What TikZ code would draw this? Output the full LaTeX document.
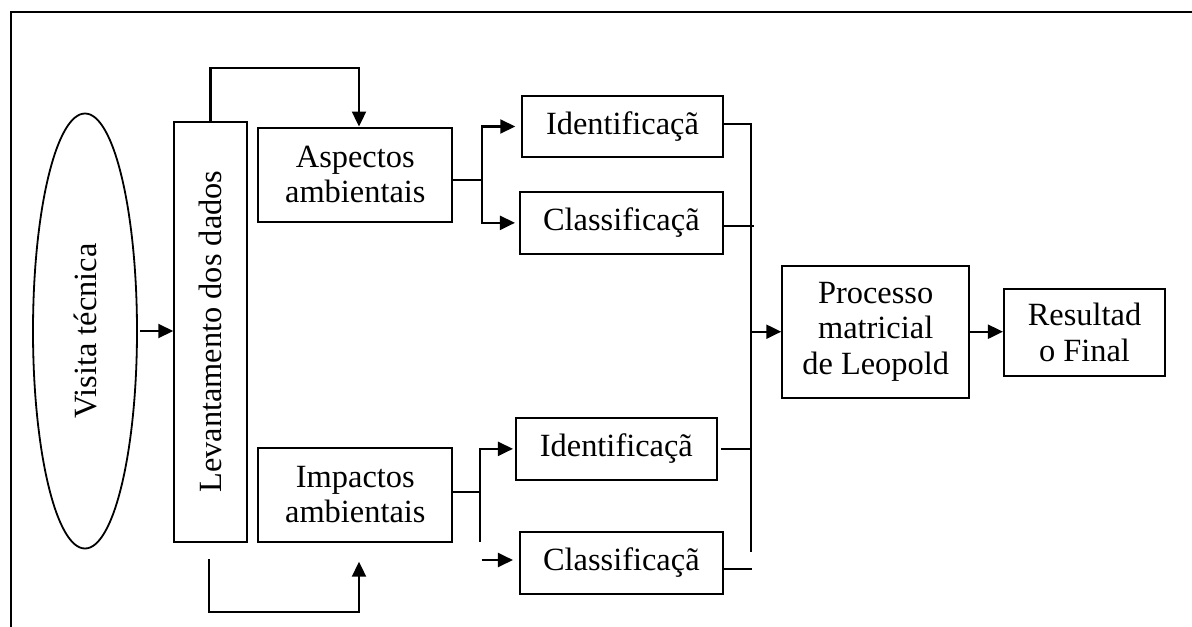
\documentclass[tikz,border=0pt]{standalone}
\usepackage{fontspec}
\setmainfont{Liberation Serif}
\usetikzlibrary{arrows.meta,shapes.geometric}
\tikzset{
  box/.style={draw, line width=1.05pt, rectangle, inner sep=0pt, align=center},
  arr/.style={line width=1.05pt, -{Triangle[length=7.5pt,width=7pt]}},
  ln/.style={line width=1.05pt},
}
\begin{document}
\begin{tikzpicture}[x=0.5pt,y=-0.5pt,font=\fontsize{16.2}{17.8}\selectfont]
\useasboundingbox (0,0) rectangle (1192,626);
% outer frame (cut at right and bottom)
\draw[line width=1.1pt] (11,640) -- (11,12) -- (1200,12);

% nodes
\node[draw, line width=0.9pt, ellipse, inner sep=0pt, minimum width=52pt, minimum height=217.5pt] (vis) at (85,331) {\rotatebox{90}{Visita técnica}};
\node[box, minimum width=36.2pt, minimum height=210pt] (lev) at (210.5,331.7) {\rotatebox{90}{Levantamento dos dados}};
\node[box, minimum width=97pt, minimum height=47pt] (asp) at (355.3,174.6) {Aspectos\\ambientais};
\node[box, minimum width=97pt, minimum height=47pt] (imp) at (355.3,494.7) {Impactos\\ambientais};
\node[box, minimum width=100.2pt, minimum height=30.8pt] (id1) at (622.5,126.5) {Identificaçã};
\node[box, minimum width=101.35pt, minimum height=31.15pt] (cl1) at (621.35,222.85) {Classificaçã};
\node[box, minimum width=100.35pt, minimum height=31.15pt] (id2) at (616.35,448.85) {Identificaçã};
\node[box, minimum width=101.35pt, minimum height=31.3pt] (cl2) at (621.35,563) {Classificaçã};
\node[box, minimum width=93.35pt, minimum height=66pt] (proc) at (875.65,331.7) {Processo\\matricial\\de Leopold};
\node[box, minimum width=80.5pt, minimum height=43.2pt] (res) at (1084.5,332.5) {Resultad\\o Final};

% coordinates
\coordinate (j1) at (481.7,180);
\coordinate (j2) at (480,491.7);
\coordinate (j2e) at (480,541.7);
\coordinate (c2s) at (481.7,560);
\coordinate (b1) at (209,559.3);
\coordinate (b2) at (359,561.7);
\coordinate (bt) at (750.7,124);
\coordinate (bb) at (750.7,551.7);

% connectors
\draw[arr] ([xshift=1.2pt]vis.east) -- (vis.east -| lev.west);
\draw[arr] (lev.north) -- ++(0,-52.4) -| ([xshift=1.85pt]asp.north);
\draw[arr] (b1) -- ++(0,53) -| (b2);

\draw[ln] (asp.east |- j1) -- (j1);
\draw[arr] (j1) |- ([xshift=-3pt]id1.west);
\draw[arr] (j1) |- ([xshift=-2pt]cl1.west);

\draw[ln] (imp.east |- j2) -- (j2);
\draw[arr] (j2) |- ([xshift=-1pt]id2.west);
\draw[ln] (j2) -- (j2e);
\draw[arr] (c2s) -- ([xshift=-3pt]cl2.west |- c2s);

\draw[ln] (id1.east |- bt) -- (bt) -- (bb);
\draw[ln] ([yshift=-1.6pt]cl1.east) -- ++(30,0);
\draw[ln] ([xshift=1.6pt]id2.east) -- (id2.east -| bt);
\draw[ln] ([yshift=-3.15pt]cl2.east) -- ++(28,0);
\draw[arr] (proc.west -| bt) -- (proc.west);
\draw[arr] (proc.east) -- (res.west |- proc.east);
\end{tikzpicture}
\end{document}
